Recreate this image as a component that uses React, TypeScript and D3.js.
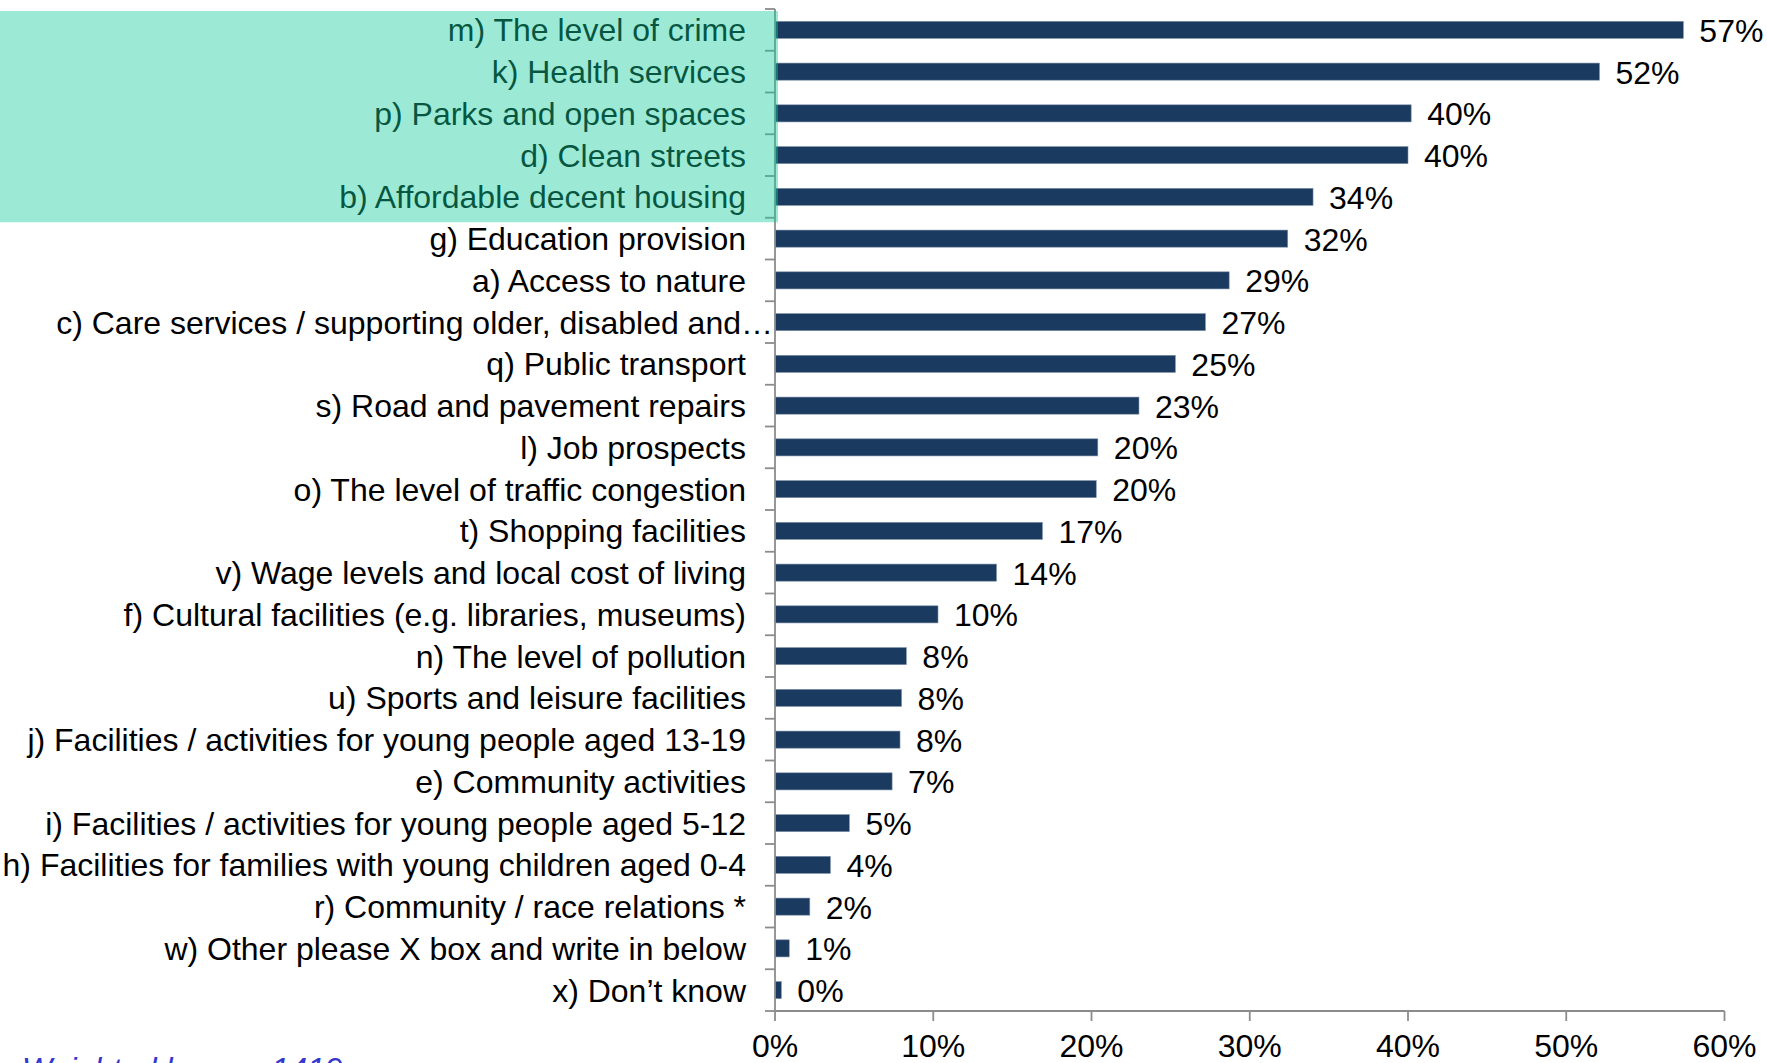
import React from "react";
import * as d3 from "d3";

const categories: string[] = [
  "m) The level of crime",
  "k) Health services",
  "p) Parks and open spaces",
  "d) Clean streets",
  "b) Affordable decent housing",
  "g) Education provision",
  "a) Access to nature",
  "c) Care services / supporting older, disabled and\u2026",
  "q) Public transport",
  "s) Road and pavement repairs",
  "l) Job prospects",
  "o) The level of traffic congestion",
  "t) Shopping facilities",
  "v) Wage levels and local cost of living",
  "f) Cultural facilities (e.g. libraries, museums)",
  "n) The level of pollution",
  "u) Sports and leisure facilities",
  "j) Facilities / activities for young people aged 13-19",
  "e) Community activities",
  "i) Facilities / activities for young people aged 5-12",
  "h) Facilities for families with young children aged 0-4",
  "r) Community / race relations *",
  "w) Other please X box and write in below",
  "x) Don\u2019t know",
];

const values: number[] = [
  57.4, 52.1, 40.2, 40.0, 34.0, 32.4, 28.7, 27.2, 25.3, 23.0, 20.4, 20.3,
  16.9, 14.0, 10.3, 8.3, 8.0, 7.9, 7.4, 4.7, 3.5, 2.2, 0.9, 0.4,
];

const xTicks: number[] = [0, 10, 20, 30, 40, 50, 60];
const highlightedCount = 5;
const footnote = "Weighted base = 1419";

const W = 1767;
const H = 1063;
const axisX = 775;
const plotRight = 1724.5;
const plotTop = 9;
const plotBottom = 1011;
const FONT = "'Liberation Sans', Arial, sans-serif";
const FS = 32;

export default function App() {
  const x = d3.scaleLinear().domain([0, 60]).range([axisX, plotRight]);
  const y = d3
    .scaleBand<string>()
    .domain(categories)
    .range([plotTop, plotBottom])
    .paddingInner(0.59)
    .paddingOuter(0.295);
  const step = y.step();
  const boundaries = d3.range(categories.length + 1).map((k) => plotTop + k * step);
  const axisColor = "#8c8c8c";

  const hlTop = 11;
  const hlBottom = plotTop + highlightedCount * step + 4.5;

  return (
    <svg
      width={W}
      height={H}
      style={{ position: "absolute", left: 0, top: 0, display: "block", background: "#fff" }}
      fontFamily={FONT}
    >
      <rect x={0} y={0} width={W} height={H} fill="#ffffff" />
      {/* bars */}
      {values.map((v, i) => (
        <rect
          key={"b" + i}
          x={x(0)}
          y={y(categories[i])!}
          width={x(v) - x(0)}
          height={y.bandwidth()}
          fill="#1b3a5f"
          stroke="#7f93ab"
          strokeWidth={0.6}
        />
      ))}
      {/* value labels */}
      {values.map((v, i) => (
        <text
          key={"v" + i}
          x={x(v) + 16}
          y={y(categories[i])! + y.bandwidth() / 2 + 1}
          fontSize={FS}
          dominantBaseline="central"
          fill="#000"
        >
          {Math.round(v) + "%"}
        </text>
      ))}
      {/* category labels */}
      {categories.map((c, i) => (
        <text
          key={"c" + i}
          x={c.endsWith("\u2026") ? 773 : 746}
          y={y(c)! + y.bandwidth() / 2 + 0.5}
          fontSize={FS}
          textAnchor="end"
          dominantBaseline="central"
          fill="#000"
        >
          {c}
        </text>
      ))}
      {/* y axis */}
      <line x1={axisX} x2={axisX} y1={plotTop} y2={plotBottom} stroke={axisColor} strokeWidth={1.8} />
      {boundaries.map((b, k) => (
        <line key={"yt" + k} x1={axisX - 10} x2={axisX} y1={b} y2={b} stroke={axisColor} strokeWidth={1.8} />
      ))}
      {/* x axis */}
      <line x1={axisX} x2={plotRight} y1={plotBottom} y2={plotBottom} stroke={axisColor} strokeWidth={1.8} />
      {xTicks.map((t) => (
        <g key={"xt" + t}>
          <line x1={x(t)} x2={x(t)} y1={plotBottom} y2={plotBottom + 10} stroke={axisColor} strokeWidth={1.8} />
          <text x={x(t)} y={1057} fontSize={FS} textAnchor="middle" fill="#000">
            {t + "%"}
          </text>
        </g>
      ))}
      {/* highlight overlay */}
      <rect
        x={0}
        y={hlTop}
        width={778}
        height={hlBottom - hlTop}
        fill="rgb(20,205,155)"
        fillOpacity={0.42}
      />
      {/* footnote (cut off at the bottom edge, as in the reference) */}
      <text x={22} y={1080} fontSize={FS} fontStyle="italic" fill="#3535d0">
        {footnote}
      </text>
    </svg>
  );
}
